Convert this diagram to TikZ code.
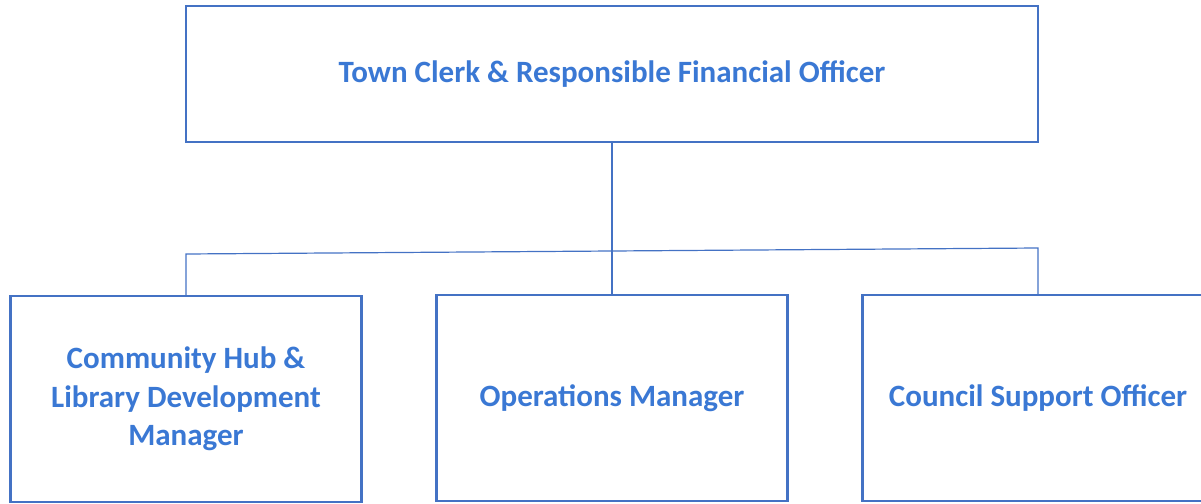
\documentclass[tikz,border=0pt]{standalone}
\usepackage{fontspec}
\setmainfont{Carlito}
\usetikzlibrary{positioning, calc}
\definecolor{boxblue}{HTML}{4472C4}
\definecolor{textblue}{HTML}{3A78D4}

\begin{document}
\begin{tikzpicture}[x=1pt, y=-1pt,
    post/.style={draw=boxblue, line width=2.2pt, fill=white, text=textblue,
        font=\fontsize{31}{38.5}\selectfont\bfseries, align=center,
        minimum width=351pt, minimum height=206pt, inner sep=0pt},
    link/.style={draw=boxblue, line width=1.2pt}]
    \useasboundingbox (0,0) rectangle (1201,503);

    \node[post, minimum width=852pt, minimum height=136pt] (clerk) at (612,74) {Town Clerk \& Responsible Financial Officer};
    \node[post] (hub) at (186,399) {Community Hub \&\\Library Development\\Manager};
    \node[post] (ops) at (612,398) {Operations Manager};
    \node[post] (cso) at (1038,398) {Council Support Officer};

    \coordinate (jl) at (186,254);
    \coordinate (jr) at (1038,248);

    \draw[link] (clerk.south) -- (ops.north);
    \draw[link] (hub.north) -- (jl) -- (jr) -- (cso.north);
\end{tikzpicture}
\end{document}
